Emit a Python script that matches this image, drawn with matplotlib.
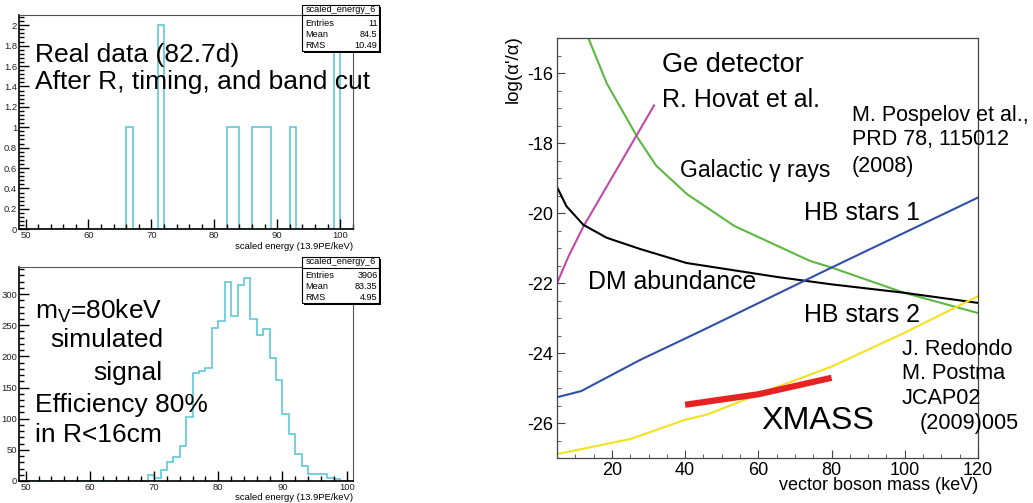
import numpy as np
import matplotlib
matplotlib.use('Agg')
import matplotlib.pyplot as plt
from matplotlib.patches import Rectangle
from matplotlib.ticker import MultipleLocator, FuncFormatter

plt.rcParams['font.family'] = ['Liberation Sans', 'DejaVu Sans']
plt.rcParams['axes.unicode_minus'] = False
plt.rcParams['mathtext.fontset'] = 'custom'
plt.rcParams['mathtext.rm'] = 'Liberation Sans'
plt.rcParams['mathtext.it'] = 'Liberation Sans:italic'

# ---------------- data ----------------
top_bin_lo = [66, 71, 82, 83, 86, 87, 88, 92, 99]
top_counts = [1, 2, 1, 1, 1, 1, 1, 1, 2]
top_stats = [("Entries", "11"), ("Mean", "84.5"), ("RMS", "10.49")]

bot_first_bin = 69
bot_counts = [9, 5, 17, 31, 39, 56, 103, 173, 176, 181, 245, 257, 320, 265, 314,
              326, 260, 235, 244, 197, 162, 108, 76, 44, 24, 12, 11, 11, 5, 4]
bot_stats = [("Entries", "3906"), ("Mean", "83.35"), ("RMS", "4.95")]

ge_x = [5, 8.1, 12.2, 31.5]
ge_y = [-22.0, -21.24, -20.38, -16.92]
gal_x = [13.6, 18.6, 27.2, 32.1, 40.5, 53.4, 74.1, 80, 99.8, 120]
gal_y = [-15.0, -16.29, -17.87, -18.64, -19.45, -20.36, -21.36, -21.55, -22.27, -22.85]
dm_x = [5, 7.6, 12.2, 18.6, 27.7, 40.4, 65.2, 80, 99.8, 120]
dm_y = [-19.25, -19.8, -20.33, -20.7, -21.02, -21.42, -21.82, -22.03, -22.27, -22.56]
hb1_x = [5.2, 11.6, 27.7, 45, 80, 120]
hb1_y = [-25.25, -25.08, -24.19, -23.33, -21.55, -19.55]
hb2_x = [5, 25, 40, 46, 55, 60.3, 80, 99.8, 120]
hb2_y = [-26.88, -26.45, -25.9, -25.75, -25.38, -25.15, -24.38, -23.42, -22.37]
xmass_x = [40, 60, 80]
xmass_y = [-25.47, -25.17, -24.70]

# ---------------- layout helpers ----------------
W, H = 1033, 503
fig = plt.figure(figsize=(W / 100, H / 100), dpi=100)
fig.patch.set_facecolor('white')


def fx(px):
    return px / W


def fy(py):
    return 1 - py / H


def add_ax(left, top, right, bottom):
    return fig.add_axes([fx(left), fy(bottom), fx(right) - fx(left), (bottom - top) / H])


def gfmt(v, pos):
    return '%g' % round(v, 6)


HIST_C = '#5fc8d9'


def style_root(ax, xmaj, xmin, ymaj, ymin):
    for s in ax.spines.values():
        s.set_linewidth(0.8)
        s.set_color('#555555')
    ax.spines['left'].set_color('black')
    ax.spines['bottom'].set_color('black')
    ax.spines['left'].set_linewidth(1.2)
    ax.spines['bottom'].set_linewidth(1.2)
    ax.xaxis.set_major_locator(MultipleLocator(xmaj))
    ax.xaxis.set_minor_locator(MultipleLocator(xmin))
    ax.yaxis.set_major_locator(MultipleLocator(ymaj))
    ax.yaxis.set_minor_locator(MultipleLocator(ymin))
    ax.tick_params(which='both', direction='in', top=False, right=False, width=1.0)
    ax.tick_params(which='major', length=7, labelsize=6.8, pad=1.5, labelcolor='#222222')
    ax.tick_params(which='minor', length=3.5)
    ax.xaxis.set_major_formatter(FuncFormatter(gfmt))
    ax.yaxis.set_major_formatter(FuncFormatter(gfmt))


def stats_box(left, top, right, bottom, sep, rows, row_y, head_y):
    # shadow
    fig.add_artist(Rectangle((fx(left + 2), fy(bottom + 2)), (right - left) / W, (bottom - top) / H,
                             transform=fig.transFigure, facecolor='black', edgecolor='black',
                             lw=0, zorder=10))
    fig.add_artist(Rectangle((fx(left), fy(bottom)), (right - left) / W, (bottom - top) / H,
                             transform=fig.transFigure, facecolor='white', edgecolor='black',
                             lw=0.8, zorder=11))
    fig.add_artist(plt.Line2D([fx(left), fx(right)], [fy(sep), fy(sep)],
                              transform=fig.transFigure, color='black', lw=0.8, zorder=12))
    fig.text(fx((left + right) / 2), fy(head_y), 'scaled_energy_6', ha='center', va='center',
             fontsize=6.6, zorder=13)
    for (k, v), yy in zip(rows, row_y):
        fig.text(fx(left + 4), fy(yy), k, ha='left', va='center', fontsize=6.6, zorder=13)
        fig.text(fx(right - 1.5), fy(yy), v, ha='right', va='center', fontsize=6.6, zorder=13)


# ---------------- top-left histogram ----------------
ax1 = add_ax(19.3, 15, 353.3, 229.3)
edges1 = np.arange(49, 103)
vals1 = np.zeros(len(edges1) - 1)
for lo, c in zip(top_bin_lo, top_counts):
    vals1[lo - 49] = c
ax1.stairs(vals1, edges1, baseline=0, color=HIST_C, lw=1.2)
ax1.set_xlim(49, 102.1)
ax1.set_ylim(0, 2.1)
style_root(ax1, 10, 2, 0.2, 0.04)
fig.text(fx(353), fy(246.5), 'scaled energy (13.9PE/keV)', ha='right', va='center', fontsize=6.8)
fig.text(fx(35), fy(55), 'Real data (82.7d)', ha='left', va='center', fontsize=19)
fig.text(fx(35), fy(82), 'After R, timing, and band cut', ha='left', va='center', fontsize=19)
stats_box(301.7, 5, 379, 51, 15, top_stats, [23.3, 34.2, 45.5], 10)

# ---------------- bottom-left histogram ----------------
ax2 = add_ax(19.3, 266.7, 353.3, 481)
edges2 = np.arange(49, 102)
vals2 = np.zeros(len(edges2) - 1)
for i, c in enumerate(bot_counts):
    vals2[bot_first_bin - 49 + i] = c
ax2.stairs(vals2, edges2, baseline=0, color=HIST_C, lw=1.2)
ax2.set_xlim(49, 101.03)
ax2.set_ylim(0, 344)
style_root(ax2, 10, 2, 50, 10)
fig.text(fx(353), fy(498), 'scaled energy (13.9PE/keV)', ha='right', va='center', fontsize=6.8)
fig.text(fx(35), fy(311.7), 'm$_{\\mathrm{V}}$=80keV', ha='left', va='center', fontsize=19)
fig.text(fx(50), fy(340), 'simulated', ha='left', va='center', fontsize=19)
fig.text(fx(93), fy(373.3), 'signal', ha='left', va='center', fontsize=19)
fig.text(fx(35), fy(405), 'Efficiency 80%', ha='left', va='center', fontsize=19)
fig.text(fx(35), fy(435), 'in R<16cm', ha='left', va='center', fontsize=19)
stats_box(301.7, 257, 379, 303.3, 268.3, bot_stats, [275.7, 286.7, 297.3], 262)

# ---------------- right panel ----------------
ax3 = add_ax(557, 38.3, 978, 458.3)
ax3.plot(gal_x, gal_y, color='#5cb840', lw=1.5)
ax3.plot(ge_x, ge_y, color='#c04aa8', lw=1.5)
ax3.plot(dm_x, dm_y, color='black', lw=1.5)
ax3.plot(hb1_x, hb1_y, color='#3050a8', lw=1.5)
ax3.plot(hb2_x, hb2_y, color='#f2e21e', lw=1.5)
ax3.plot(xmass_x, xmass_y, color='#e82222', lw=4.5, solid_capstyle='butt')
ax3.set_xlim(5, 120)
ax3.set_ylim(-27, -15)
for s in ax3.spines.values():
    s.set_linewidth(0.9)
    s.set_color('#444444')
ax3.xaxis.set_major_locator(MultipleLocator(20))
ax3.xaxis.set_minor_locator(MultipleLocator(5))
ax3.yaxis.set_major_locator(MultipleLocator(2))
ax3.yaxis.set_minor_locator(MultipleLocator(0.5))
ax3.tick_params(which='both', direction='in', top=False, right=False, color='#444444')
ax3.tick_params(which='major', length=6, labelsize=13, pad=3)
ax3.tick_params(which='minor', length=3)
ax3.xaxis.set_major_formatter(FuncFormatter(gfmt))
ax3.yaxis.set_major_formatter(FuncFormatter(gfmt))
fig.text(fx(978), fy(486), 'vector boson mass (keV)', ha='right', va='center', fontsize=13)
fig.text(fx(513.6), fy(35), "log(\u03b1'/\u03b1)", ha='center', va='top', rotation=90, fontsize=13.5)

fig.text(fx(662), fy(65), 'Ge detector', ha='left', va='center', fontsize=19.5)
fig.text(fx(662), fy(100), 'R. Hovat et al.', ha='left', va='center', fontsize=18)
fig.text(fx(680), fy(170), 'Galactic \u03b3 rays', ha='left', va='center', fontsize=16.6)
fig.text(fx(852), fy(115), 'M. Pospelov et al.,', ha='left', va='center', fontsize=15.5)
fig.text(fx(852), fy(140), 'PRD 78, 115012', ha='left', va='center', fontsize=15.5)
fig.text(fx(852), fy(166.7), '(2008)', ha='left', va='center', fontsize=15.5)
fig.text(fx(804.5), fy(213.3), 'HB stars 1', ha='left', va='center', fontsize=17.9)
fig.text(fx(588), fy(281.7), 'DM abundance', ha='left', va='center', fontsize=17.9)
fig.text(fx(804.5), fy(315), 'HB stars 2', ha='left', va='center', fontsize=17.9)
fig.text(fx(902), fy(349.3), 'J. Redondo', ha='left', va='center', fontsize=15.6)
fig.text(fx(902), fy(373.3), 'M. Postma', ha='left', va='center', fontsize=15.6)
fig.text(fx(902), fy(398.3), 'JCAP02', ha='left', va='center', fontsize=15.6)
fig.text(fx(920), fy(423.3), '(2009)005', ha='left', va='center', fontsize=15.6)
fig.text(fx(761), fy(420.7), 'XMASS', ha='left', va='center', fontsize=23.2)

fig.savefig('out.png', dpi=100)
